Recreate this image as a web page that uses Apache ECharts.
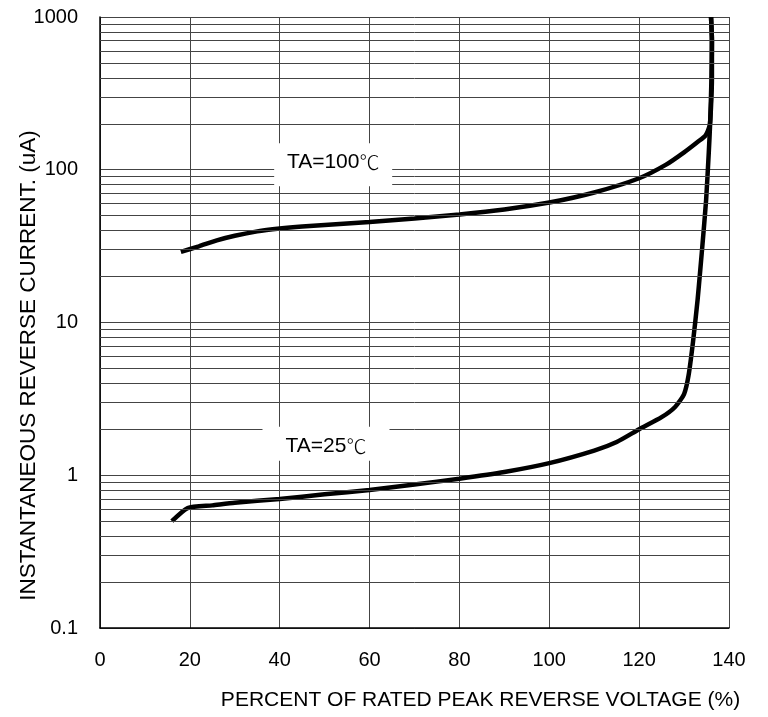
<!DOCTYPE html>
<html>
<head>
<meta charset="utf-8">
<script src="https://cdn.jsdelivr.net/npm/echarts@6/dist/echarts.min.js"></script>
<style>html,body{margin:0;padding:0;background:#fff}#c{width:768px;height:717px}</style>
</head>
<body>
<div id="c"></div>
<script>
var xTicks = [0, 20, 40, 60, 80, 100, 120, 140];
var yTicks = [0.1, 1, 10, 100, 1000];
var yMinorGrid = [0.2,0.3,0.4,0.5,0.6,0.7,0.8,0.9,
                  2,3,4,5,6,7,8,9,
                  20,30,40,50,60,70,80,90,
                  200,300,400,500,600,700,800,900];
var curve100 = [[18,29],[22,31.5],[26,34.5],[30,37],[35,39.5],[40,41.2],[45,42.5],[50,43.5],[60,45.5],[70,48],[80,51],[90,55],[100,61],[110,71],[120,88],[126,108],[130,130],[133,152],[134.8,168],[135.7,195],[136,260],[136.2,400],[136.2,700],[136,1000]];
var curve25 = [[16,0.5],[19.5,0.61],[25,0.635],[30,0.66],[40,0.70],[50,0.75],[60,0.80],[70,0.87],[80,0.95],[90,1.05],[100,1.2],[110,1.45],[115,1.65],[120,2.0],[125,2.4],[128,2.8],[130,3.4],[131,4.5],[132,7.5],[133,14],[133.6,22],[134,30],[134.9,63],[135.5,130],[135.8,200],[136.1,400],[136.2,700],[136,1000]];
var label100 = {name: 'TA=100', unit: '\u2103', x: 51.9, y: 108};
var label25 = {name: 'TA=25', unit: '\u2103', x: 50.3, y: 1.61};

var FONT = 'Liberation Sans, Arial, sans-serif';
var CJK = 'Noto Sans CJK SC, sans-serif';
function richLabel(l) {
  return '{a|' + l.name + '}{b|' + l.unit + '}';
}
var richStyle = {
  a: {fontFamily: FONT, fontSize: 21, color: '#000'},
  b: {fontFamily: CJK, fontSize: 20, color: '#000', fontWeight: 300}
};
var chart = echarts.init(document.getElementById('c'));
chart.setOption({
  animation: false,
  backgroundColor: '#fff',
  grid: {left: 100, right: 39, top: 17, bottom: 89, containLabel: false, outerBoundsMode: 'none'},
  xAxis: {
    type: 'value', min: 0, max: 140, interval: 20,
    name: 'PERCENT OF RATED PEAK REVERSE VOLTAGE (%)',
    nameLocation: 'middle', nameGap: 62, nameMoveOverlap: false,
    nameTextStyle: {fontFamily: FONT, fontSize: 21, color: '#000', padding: [0, 0, 0, 132]},
    axisLine: {show: true, lineStyle: {color: '#000', width: 1.5}},
    axisTick: {show: false},
    axisLabel: {margin: 22, fontFamily: FONT, fontSize: 20, color: '#000',
      formatter: function (v) { return xTicks.indexOf(v) >= 0 ? String(v) : ''; }},
    splitLine: {show: true, lineStyle: {color: '#444', width: 1}}
  },
  yAxis: {
    type: 'log', logBase: 10, min: 0.1, max: 1000,
    name: 'INSTANTANEOUS REVERSE CURRENT. (uA)',
    nameLocation: 'middle', nameGap: 60, nameMoveOverlap: false,
    nameTextStyle: {fontFamily: FONT, fontSize: 22.5, color: '#000', padding: [0, 86, 0, 0]},
    axisLine: {show: true, lineStyle: {color: '#000', width: 1.5}},
    axisTick: {show: false},
    axisLabel: {margin: 22, fontFamily: FONT, fontSize: 20, color: '#000',
      formatter: function (v) { return String(v); }},
    splitLine: {show: true, lineStyle: {color: '#444', width: 1}}
  },
  series: [
    {
      type: 'line', data: [], z: 1, silent: true,
      markLine: {
        silent: true, symbol: ['none', 'none'], animation: false,
        label: {show: false},
        lineStyle: {color: '#444', width: 1, type: 'solid'},
        data: yMinorGrid.map(function (v) { return {yAxis: v}; })
      }
    },
    {
      type: 'line', data: curve100, z: 3, showSymbol: false, smooth: 0.2,
      lineStyle: {color: '#000', width: 4.5},
      markPoint: {
        symbol: 'rect', symbolSize: [118, 43], silent: true,
        itemStyle: {color: '#fff'},
        label: {show: true, formatter: richLabel(label100), rich: richStyle, offset: [0, -2]},
        data: [{coord: [label100.x, label100.y]}]
      }
    },
    {
      type: 'line', data: curve25, z: 3, showSymbol: false, smooth: 0.2,
      lineStyle: {color: '#000', width: 4.5},
      markPoint: {
        symbol: 'rect', symbolSize: [127, 34], silent: true,
        itemStyle: {color: '#fff'},
        label: {show: true, formatter: richLabel(label25), rich: richStyle, offset: [0, 3]},
        data: [{coord: [label25.x, label25.y]}]
      }
    }
  ]
});
</script>
</body>
</html>
